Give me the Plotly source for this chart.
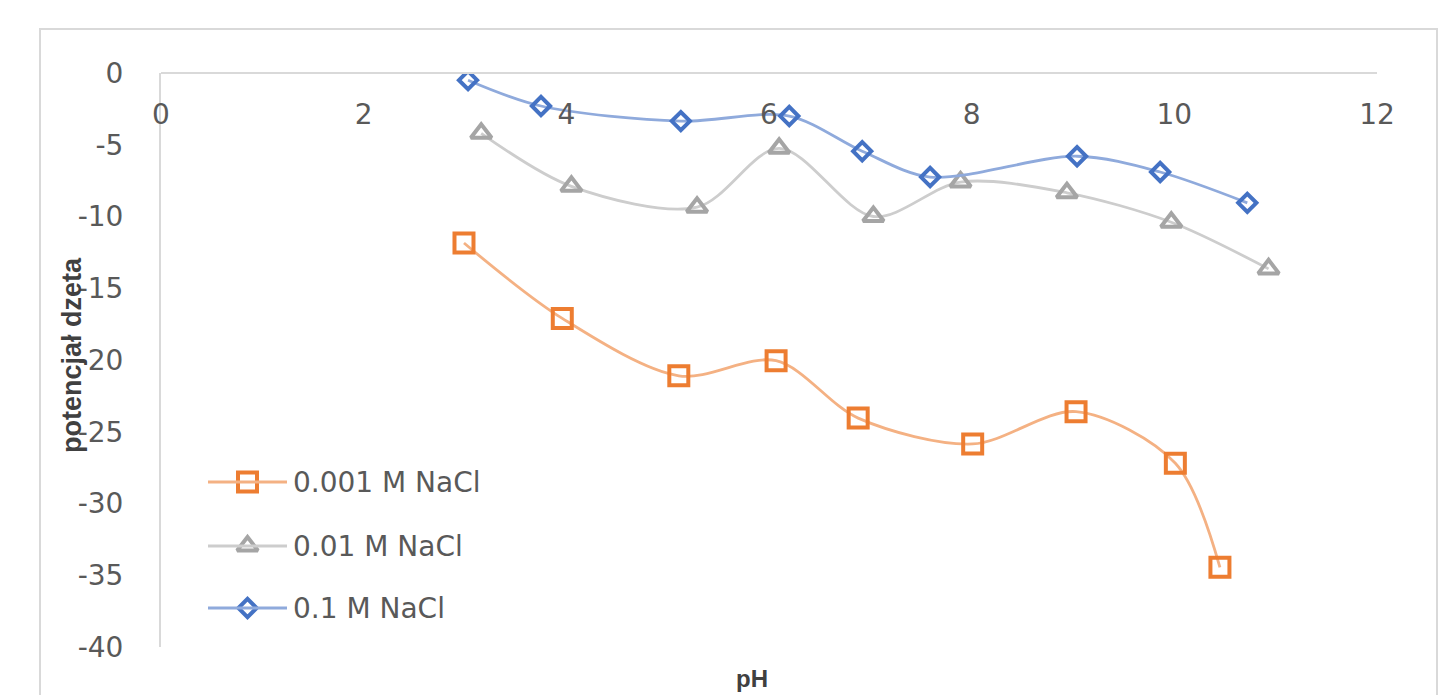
import plotly.graph_objects as go

# pH values and zeta potential (mV) for each NaCl concentration
ph_0001 = [2.99, 3.96, 5.11, 6.07, 6.88, 8.01, 9.03, 10.01, 10.45]
zeta_0001 = [-11.85, -17.1, -21.1, -20.05, -24.05, -25.85, -23.6, -27.2, -34.45]

ph_001 = [3.16, 4.05, 5.29, 6.10, 7.03, 7.89, 8.94, 9.97, 10.93]
zeta_001 = [-4.2, -7.9, -9.35, -5.25, -10.0, -7.6, -8.35, -10.4, -13.65]

ph_01 = [3.03, 3.75, 5.13, 6.20, 6.92, 7.59, 9.04, 9.86, 10.72]
zeta_01 = [-0.5, -2.3, -3.35, -3.0, -5.45, -7.25, -5.8, -6.9, -9.05]

series_names = ["0.001 M NaCl", "0.01 M NaCl", "0.1 M NaCl"]

x_ticks = [0, 2, 4, 6, 8, 10, 12]
y_ticks = [0, -5, -10, -15, -20, -25, -30, -35, -40]

FONT = "DejaVu Sans"
TITLE_FONT = "Liberation Sans"
TXT = "#595959"
TITLE_TXT = "#404040"

W, H = 1447, 695
L, R, T, B = 161, 70, 73, 48

# legend block geometry (pixels from top-left of the page)
LEG_LINE_X0, LEG_LINE_X1 = 208, 287
LEG_TEXT_X = 291
LEG_ROWS = [482, 546, 608]

styles = [
    dict(symbol="square-open", size=19, mcol="#ED7D31", lcol="#F4B183"),
    dict(symbol="triangle-up-open", size=18, mcol="#A5A5A5", lcol="#CDCDCD"),
    dict(symbol="diamond-open", size=14, mcol="#4472C4", lcol="#8FAADC"),
]
data = [(ph_0001, zeta_0001), (ph_001, zeta_001), (ph_01, zeta_01)]

fig = go.Figure()

for name, (xs, ys), st in zip(series_names, data, styles):
    fig.add_trace(go.Scatter(
        x=xs, y=ys, name=name, mode="lines+markers", showlegend=False,
        line=dict(shape="spline", smoothing=0.9, color=st["lcol"], width=2.8),
        marker=dict(symbol=st["symbol"], size=st["size"], color=st["mcol"],
                    line=dict(width=4, color=st["mcol"])),
    ))

def px_x(p):
    return (p - L) / (W - L - R)

def px_y(p):
    return (H - B - p) / (H - T - B)

shapes = [dict(
    type="rect", xref="paper", yref="paper",
    x0=px_x(40), x1=px_x(1437), y0=px_y(720), y1=px_y(29),
    line=dict(color="#D9D9D9", width=2), fillcolor="rgba(0,0,0,0)", layer="below",
)]
annotations = [
    dict(text="<b>pH</b>", xref="paper", yref="paper",
         x=px_x(752), y=px_y(678), xanchor="center", yanchor="middle",
         showarrow=False, font=dict(size=24, color=TITLE_TXT, family=TITLE_FONT)),
    dict(text="<b>potencjał dzeta</b>", xref="paper", yref="paper",
         x=px_x(72), y=px_y(355), xanchor="center", yanchor="middle", textangle=-90,
         showarrow=False, font=dict(size=27, color=TITLE_TXT, family=TITLE_FONT)),
]

# legend keys drawn on a pixel-scaled overlay axis
key_mid = (LEG_LINE_X0 + LEG_LINE_X1) / 2
for name, st, row in zip(series_names, styles, LEG_ROWS):
    shapes.append(dict(type="line", xref="x2", yref="y2",
                       x0=LEG_LINE_X0, x1=LEG_LINE_X1, y0=row, y1=row,
                       line=dict(color=st["lcol"], width=2.8)))
    fig.add_trace(go.Scatter(
        x=[key_mid], y=[row], xaxis="x2", yaxis="y2", mode="markers",
        showlegend=False, hoverinfo="skip",
        marker=dict(symbol=st["symbol"], size=st["size"], color=st["mcol"],
                    line=dict(width=4, color=st["mcol"])),
    ))
    annotations.append(dict(
        text=name, xref="x2", yref="y2", x=LEG_TEXT_X, y=row,
        xanchor="left", yanchor="middle", showarrow=False,
        font=dict(size=28, color=TXT, family=FONT),
    ))

fig.update_layout(
    width=W, height=H,
    margin=dict(l=L, r=R, t=T, b=B),
    paper_bgcolor="white", plot_bgcolor="white",
    font=dict(family=FONT, color=TXT, size=28),
    showlegend=False,
    xaxis=dict(
        range=[0, 12], tickvals=x_ticks, ticktext=[str(v) for v in x_ticks],
        anchor="free", position=1, side="bottom",
        showline=True, linecolor="#D9D9D9", linewidth=2,
        showgrid=False, zeroline=False,
        ticks="outside", ticklen=16, tickcolor="rgba(0,0,0,0)",
        tickfont=dict(size=28, color=TXT, family=FONT),
    ),
    yaxis=dict(
        range=[-40, 0], tickvals=y_ticks, ticktext=[str(v) for v in y_ticks],
        showline=True, linecolor="#D9D9D9", linewidth=2,
        showgrid=False, zeroline=False,
        ticks="outside", ticklen=30, tickcolor="rgba(0,0,0,0)",
        tickfont=dict(size=28, color=TXT, family=FONT),
    ),
    xaxis2=dict(overlaying="x", range=[L, W - R], visible=False, fixedrange=True),
    yaxis2=dict(overlaying="y", range=[H - B, T], visible=False, fixedrange=True),
    shapes=shapes,
    annotations=annotations,
)

fig.write_html("out.html")
